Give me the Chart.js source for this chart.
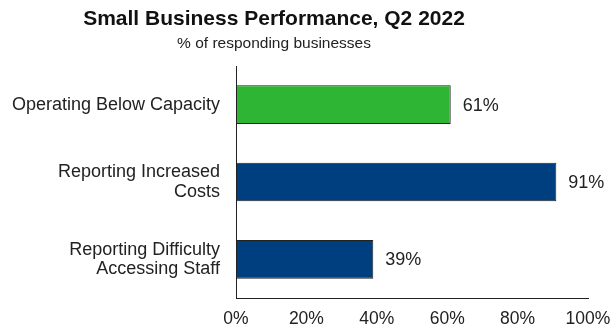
<!DOCTYPE html>
<html>
<head>
<meta charset="utf-8">
<script src="https://cdn.jsdelivr.net/npm/chart.js@4.4.1/dist/chart.umd.min.js"></script>
<style>
  html, body { margin: 0; padding: 0; background: #fff; }
  #wrap { width: 613px; height: 328px; }
</style>
</head>
<body>
<div id="wrap"><canvas id="chart" width="613" height="328"></canvas></div>
<script>
var titleText = 'Small Business Performance, Q2 2022';
var subtitleText = '% of responding businesses';
var categories = [
  'Operating Below Capacity',
  ['Reporting Increased', 'Costs'],
  ['Reporting Difficulty', 'Accessing Staff']
];
var values = [61, 91, 39];
var barColors = ['#2db533', '#003f7f', '#003f7f'];
var xTicks = { min: 0, max: 100, step: 20 };

var fontFamily = '"Liberation Sans", Arial, sans-serif';
var textColor = '#222';

// title + subtitle, centred over the plot block rather than the whole canvas
var headerPlugin = {
  id: 'header',
  afterDraw: function(chart) {
    var ctx = chart.ctx;
    ctx.save();
    ctx.fillStyle = '#111';
    ctx.textAlign = 'center';
    ctx.textBaseline = 'middle';
    ctx.font = 'bold 21px ' + fontFamily;
    ctx.fillText(titleText, 274, 19);
    ctx.fillStyle = textColor;
    ctx.font = '15.5px ' + fontFamily;
    ctx.fillText(subtitleText, 274, 44);
    ctx.restore();
  }
};

// percentage labels to the right of each bar
var valueLabels = {
  id: 'valueLabels',
  afterDatasetsDraw: function(chart) {
    var ctx = chart.ctx;
    var meta = chart.getDatasetMeta(0);
    ctx.save();
    ctx.fillStyle = textColor;
    ctx.font = '18px ' + fontFamily;
    ctx.textAlign = 'left';
    ctx.textBaseline = 'middle';
    meta.data.forEach(function(bar, i) {
      ctx.fillText(values[i] + '%', bar.x + 12, bar.y + 1);
    });
    ctx.restore();
  }
};

var ctx = document.getElementById('chart');
new Chart(ctx, {
  type: 'bar',
  data: {
    labels: categories,
    datasets: [{
      data: values,
      backgroundColor: barColors,
      borderColor: '#222',
      borderWidth: 1,
      borderSkipped: false,
      barPercentage: 0.5,
      categoryPercentage: 1
    }]
  },
  options: {
    indexAxis: 'y',
    responsive: false,
    animation: false,
    layout: { padding: { top: 66, right: 25, left: 0, bottom: 0 } },
    plugins: {
      legend: { display: false },
      tooltip: { enabled: false }
    },
    scales: {
      x: {
        min: xTicks.min,
        max: xTicks.max,
        grid: { display: false, drawTicks: false },
        border: { display: true, color: '#222', width: 1 },
        ticks: {
          stepSize: xTicks.step,
          padding: 11,
          color: textColor,
          font: { family: fontFamily, size: 17.5 },
          maxRotation: 0,
          callback: function(v) { return v + '%'; }
        },
        afterFit: function(scale) {
          scale.height = 30;
          scale.paddingLeft = 0;
          scale.paddingRight = 0;
        }
      },
      y: {
        grid: { display: false, drawTicks: false },
        border: { display: true, color: '#222', width: 1 },
        ticks: {
          padding: 16,
          color: textColor,
          font: { family: fontFamily, size: 18, lineHeight: 1.06 }
        },
        afterFit: function(scale) { scale.width = 236; }
      }
    }
  },
  plugins: [headerPlugin, valueLabels]
});
</script>
</body>
</html>
